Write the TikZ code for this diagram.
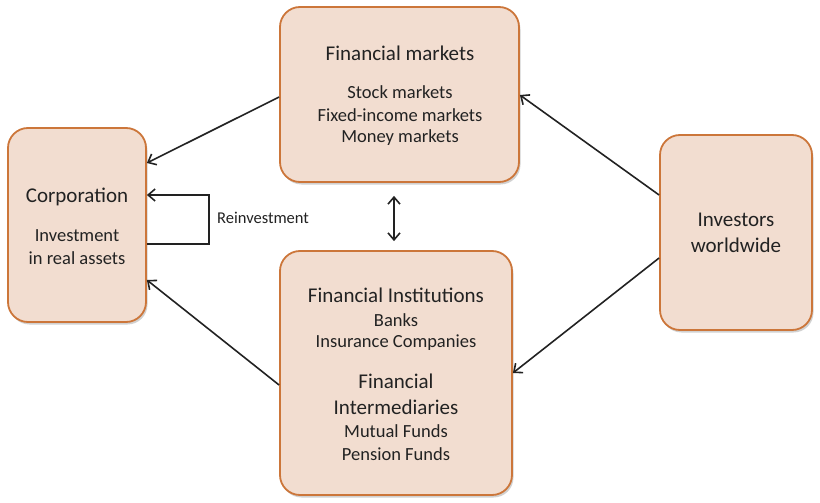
\documentclass[tikz,border=0pt]{standalone}
\usepackage{fontspec}
\setmainfont{Carlito}
\usetikzlibrary{arrows.meta,shadows,calc}
\definecolor{boxfill}{RGB}{242,221,208}
\definecolor{boxline}{RGB}{204,118,58}
\definecolor{ink}{RGB}{34,34,34}
\tikzset{
  pbox/.style={draw=boxline, line width=1.8pt, fill=boxfill, rounded corners=20pt,
    drop shadow={shadow xshift=1.5pt, shadow yshift=-2.5pt, opacity=0.3, fill=black!60},
    inner sep=0pt},
  ttl/.style={text=ink, font=\fontsize{21}{25}\selectfont, align=center, inner sep=0pt},
  bdy/.style={text=ink, font=\fontsize{18.5}{23}\selectfont, align=center, inner sep=0pt},
  lbl/.style={text=ink, font=\fontsize{16.5}{20}\selectfont, inner sep=0pt, anchor=west},
  conn/.style={draw=ink, line width=1.6pt, -{Straight Barb[length=7pt,width=12pt]}},
  conn2/.style={draw=ink, line width=1.6pt, {Straight Barb[length=7pt,width=12pt]}-{Straight Barb[length=7pt,width=12pt]}}
}
\begin{document}
\begin{tikzpicture}[x=1pt,y=-1pt]
\useasboundingbox (0,0) rectangle (820,503);
% boxes
\node[pbox, minimum width=138pt, minimum height=194pt] (corp) at (77,225) {};
\node[pbox, minimum width=239pt, minimum height=175pt] (fm) at (399.5,94.5) {};
\node[pbox, minimum width=232pt, minimum height=244pt] (fi) at (396,373) {};
\node[pbox, minimum width=152pt, minimum height=195pt] (inv) at (736,232.5) {};
% texts
\node[ttl] (corpT) at (77,197) {Corporation};
\node[bdy] (corpB1) at (77,236) {Investment};
\node[bdy] (corpB2) at (77,258) {in real assets};
\node[ttl] (fmT) at (400,53) {Financial markets};
\node[bdy] (fmB1) at (400,92) {Stock markets};
\node[bdy] (fmB2) at (400,115) {Fixed-income markets};
\node[bdy] (fmB3) at (400,138) {Money markets};
\node[ttl] (fiT1) at (396,295) {Financial Institutions};
\node[bdy] (fiB1) at (396,320) {Banks};
\node[bdy] (fiB2) at (396,343) {Insurance Companies};
\node[ttl] (fiT2) at (396,381) {Financial};
\node[ttl] (fiT3) at (396,407) {Intermediaries};
\node[bdy] (fiB3) at (396,431) {Mutual Funds};
\node[bdy] (fiB4) at (396,454) {Pension Funds};
\node[ttl] (invT1) at (736,220) {Investors};
\node[ttl] (invT2) at (736,245) {worldwide};
\node[lbl] (reinv) at (217,218) {Reinvestment};
% connectors
\draw[conn] (fm.west |- 0,97) -- (corp.east |- 0,163);
\draw[conn] (fi.west |- 0,385) -- (corp.east |- 0,280);
\draw[conn] (inv.west |- 0,195) -- (fm.east |- 0,95);
\draw[conn] (inv.west |- 0,258) -- (fi.east |- 0,373);
\draw[conn2, shorten <=13pt, shorten >=9pt] (fm.south -| 394,0) -- (fi.north -| 394,0);
\draw[conn] (corp.east |- 0,244) -- (209,244) -- (209,195) -- (corp.east |- 0,195);
\end{tikzpicture}
\end{document}
